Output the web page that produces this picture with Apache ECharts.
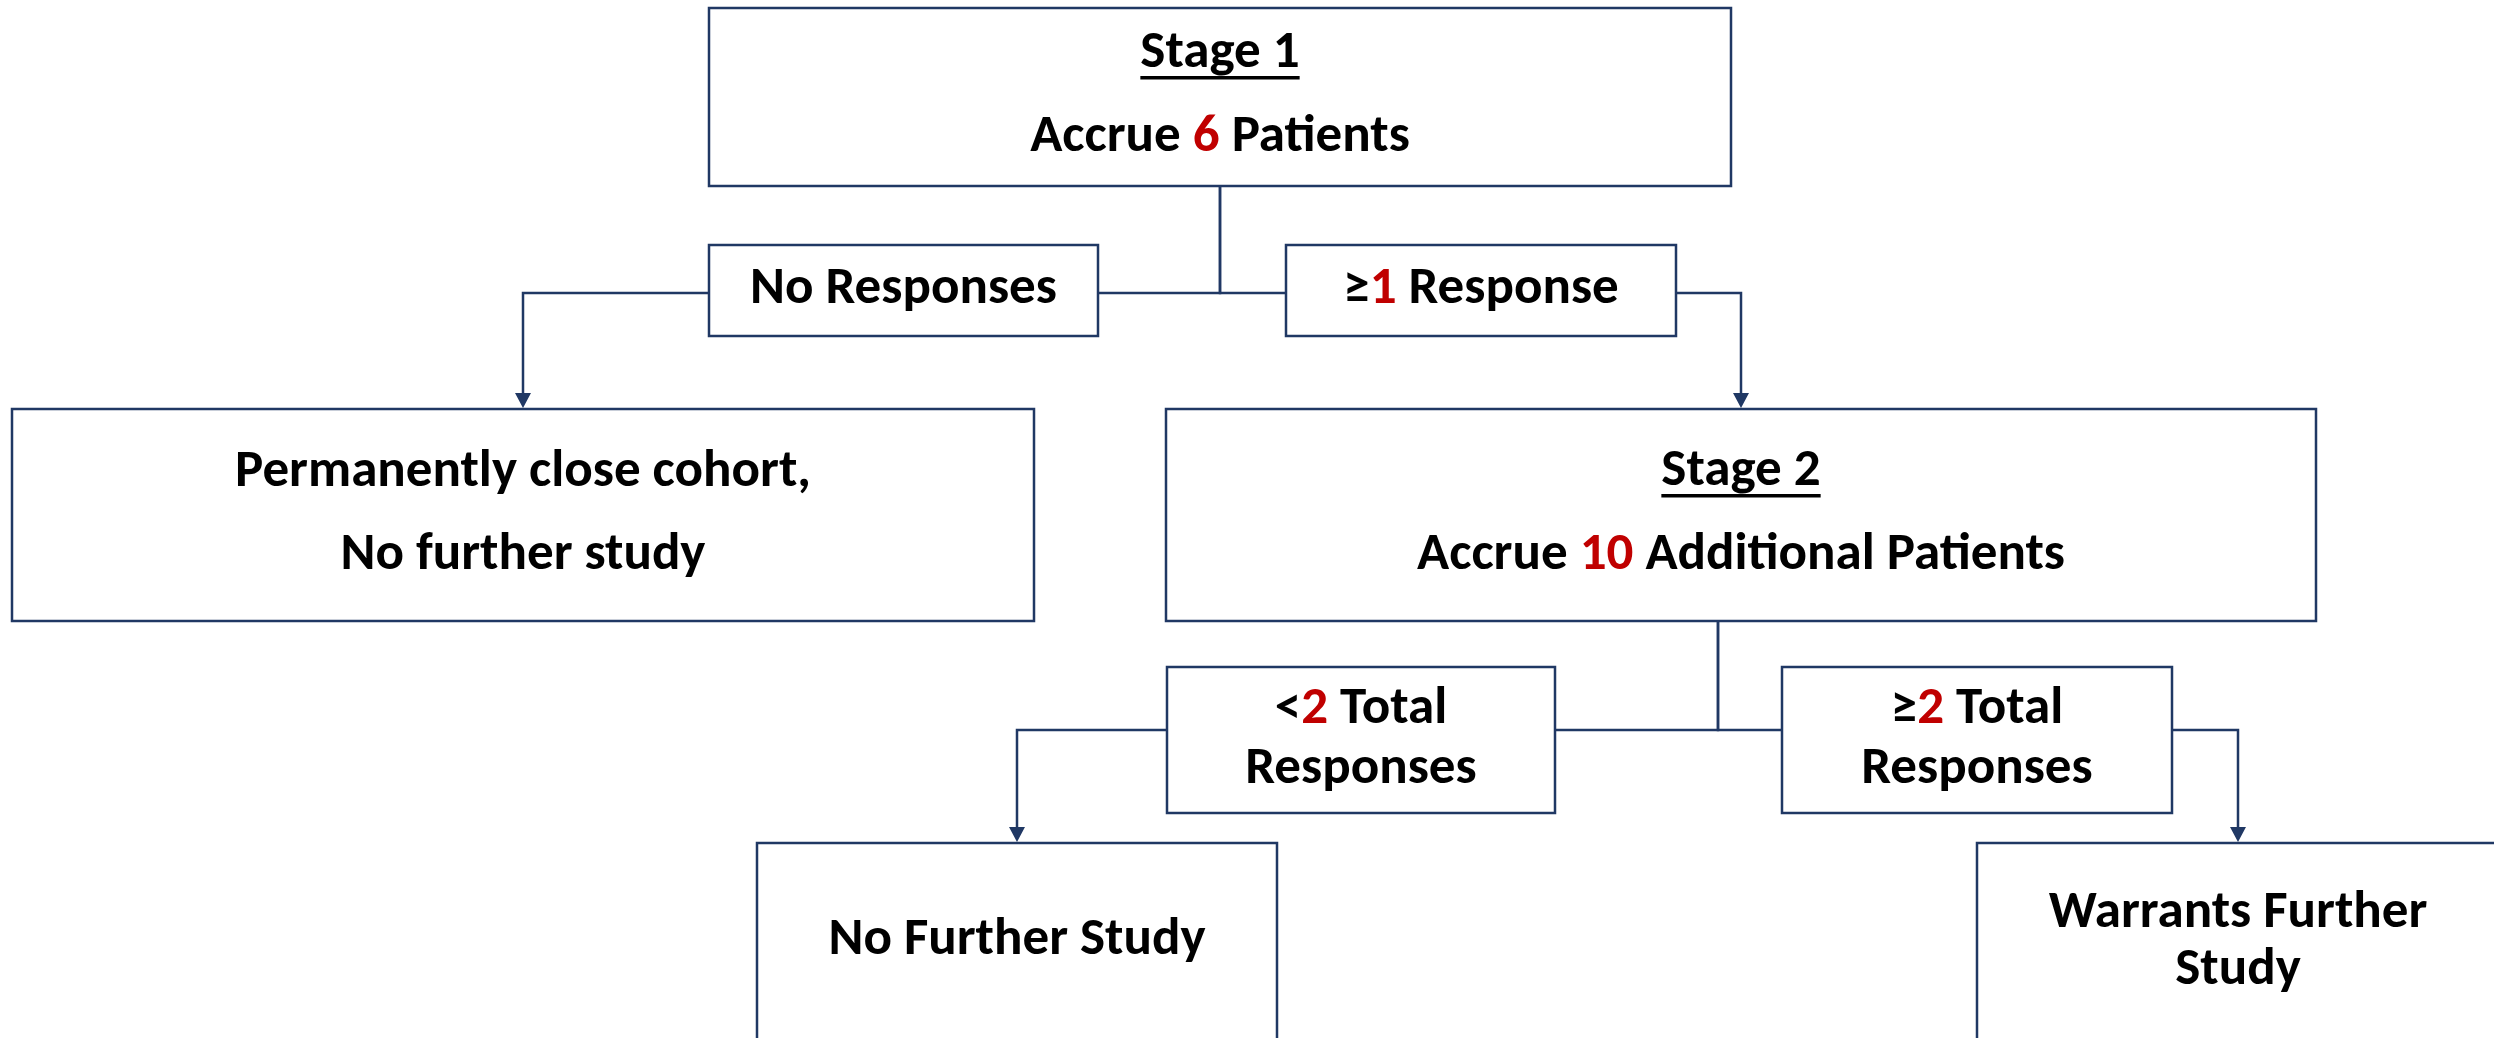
<!DOCTYPE html>
<html><head><meta charset="utf-8">
<script src="https://cdn.jsdelivr.net/npm/echarts@6/dist/echarts.min.js"></script>
<style>html,body{margin:0;padding:0;background:#fff}#c{width:2494px;height:1038px}</style>
</head><body><div id="c"></div>
<script>
// ---------- DATA ----------
const nodeIds = ['stage1','noResp','geResp','close','stage2','lt2','ge2','noFurther','warrants'];
// text lines of each node; each segment: [text, kind]  kind: 'u' underlined heading, 'r' red number, '' plain
const nodeLines = [
  [[['Stage 1','u']], [['Accrue ',''],['6','r'],[' Patients','']]],
  [[['No Responses','']]],
  [[['≥',''],['1','r'],[' Response','']]],
  [[['Permanently close cohort,','']], [['No further study','']]],
  [[['Stage 2','u']], [['Accrue ',''],['10','r'],[' Additional Patients','']]],
  [[['<',''],['2','r'],[' Total','']], [['Responses','']]],
  [[['≥',''],['2','r'],[' Total','']], [['Responses','']]],
  [[['No Further Study','']]],
  [[['Warrants Further','']], [['Study','']]]
];
// edges: [from, to, kind]  'split' = parent to decision label, 'arrow' = decision to outcome
const edges = [
  ['stage1','noResp','split'], ['stage1','geResp','split'],
  ['noResp','close','arrow'], ['geResp','stage2','arrow'],
  ['stage2','lt2','split'], ['stage2','ge2','split'],
  ['lt2','noFurther','arrow'], ['ge2','warrants','arrow']
];

// ---------- LAYOUT (diagram units, mapped through hidden axes) ----------
const layoutBoxes = {
  stage1:[709,8,1731,186], noResp:[709,245,1098,336], geResp:[1286,245,1676,336],
  close:[12,409,1034,621], stage2:[1166,409,2316,621],
  lt2:[1167,667,1555,813], ge2:[1782,667,2172,813],
  noFurther:[757,843,1277,1080], warrants:[1977,843,2499,1080]
};
const layoutLineY = {
  stage1:[53,137], noResp:[289], geResp:[289], close:[472,555], stage2:[471,555],
  lt2:[709,769], ge2:[709,769], noFurther:[940], warrants:[913,970]
};
const joinY = {noResp:293, geResp:293, lt2:730, ge2:730};
const junctionX = {stage1:1220, stage2:1718};

const LINE = '#203864', RED = '#C00000';

// ---------- FONT ----------
const fontCandidates = ['Carlito','Lato','Liberation Sans Narrow','Open Sans','Noto Sans'];
const mctx = document.createElement('canvas').getContext('2d');
function w(font, s){ mctx.font = font; return mctx.measureText(s).width; }
function pickFont(){
  const s = 'Accrue 10 Additional Patients';
  const bm = w('bold 100px monospace', s);
  for (const f of fontCandidates){
    const a = w(`bold 100px "${f}", monospace`, s), b = w(`bold 100px "${f}", serif`, s);
    if (Math.abs(a-b) < 0.01 && Math.abs(a-bm) > 0.5) return f;
  }
  return 'sans-serif';
}
const FAMILY = pickFont();
const FSIZE = (function(){
  const a = w(`bold 100px "${FAMILY}"`, 'Accrue 10 Additional Patients');
  const b = w(`bold 100px "${FAMILY}"`, 'Permanently close cohort,');
  return 100 * (648/a + 576/b) / 2;
})();
const FONT = `bold ${FSIZE}px "${FAMILY}"`;

// ---------- CHART ----------
const chart = echarts.init(document.getElementById('c'), null, {renderer:'canvas', width:2494, height:1038});

function lineText(segs){
  return segs.map(s => s[1]==='r' ? '{r|' + s[0] + '}' : s[0]).join('');
}

function renderNode(params, api){
  const i = params.dataIndex, id = nodeIds[i], b = layoutBoxes[id];
  const p0 = api.coord([b[0], b[1]]), p1 = api.coord([b[2], b[3]]);
  const cx = (p0[0]+p1[0])/2;
  const children = [{
    type:'rect', shape:{x:p0[0], y:p0[1], width:p1[0]-p0[0], height:p1[1]-p0[1]},
    style:{fill:'#fff', stroke:LINE, lineWidth:2.5}
  }];
  nodeLines[i].forEach((segs, k) => {
    const y = api.coord([0, layoutLineY[id][k]])[1];
    const txt = lineText(segs);
    children.push({
      type:'text', x:cx, y:y + 1,
      style:{text:txt, font:FONT, fill:'#000', align:'center', verticalAlign:'middle',
        rich:{r:{font:FONT, fill:RED}}}
    });
    if (segs[0][1]==='u'){
      const tw = w(FONT, segs[0][0]);
      children.push({type:'rect', shape:{x:cx - tw/2, y:y + 23, width:tw, height:3.5}, style:{fill:'#000'}});
    }
  });
  return {type:'group', children};
}

function edgePoints(e){
  const [from, to, kind] = e;
  const fb = layoutBoxes[from], tb = layoutBoxes[to];
  if (kind === 'split'){
    const jx = junctionX[from], jy = joinY[to];
    const ex = (tb[0] > jx) ? tb[0] : tb[2];
    return {pts:[[jx, fb[3]], [jx, jy], [ex, jy]], arrow:false};
  }
  const jy = joinY[from], tx = (tb[0]+tb[2])/2;
  const sx = (tx < fb[0]) ? fb[0] : fb[2];
  return {pts:[[sx, jy], [tx, jy], [tx, tb[1]]], arrow:true};
}

function renderEdge(params, api){
  const r = edgePoints(edges[params.dataIndex]);
  const pts = r.pts.map(p => api.coord(p));
  const children = [];
  if (r.arrow){
    const t = pts[pts.length-1];
    pts[pts.length-1] = [t[0], t[1]-14];
    children.push({type:'polygon', shape:{points:[[t[0]-8, t[1]-16],[t[0]+8, t[1]-16],[t[0], t[1]-1]]}, style:{fill:LINE}});
  }
  children.unshift({type:'polyline', shape:{points:pts}, style:{stroke:LINE, lineWidth:2.5, fill:null}});
  return {type:'group', children};
}

chart.setOption({
  animation:false,
  backgroundColor:'#fff',
  grid:{left:0, right:0, top:0, bottom:0},
  xAxis:{type:'value', min:0, max:2494, show:false},
  yAxis:{type:'value', min:0, max:1038, inverse:true, show:false},
  series:[
    {type:'custom', coordinateSystem:'cartesian2d', silent:true, z:1,
      data: edges.map((e,i) => [i, 0]), renderItem: renderEdge},
    {type:'custom', coordinateSystem:'cartesian2d', silent:true, z:2,
      data: nodeIds.map((id,i) => { const b = layoutBoxes[id]; return [(b[0]+b[2])/2, (b[1]+b[3])/2]; }),
      renderItem: renderNode}
  ]
});
</script></body></html>
